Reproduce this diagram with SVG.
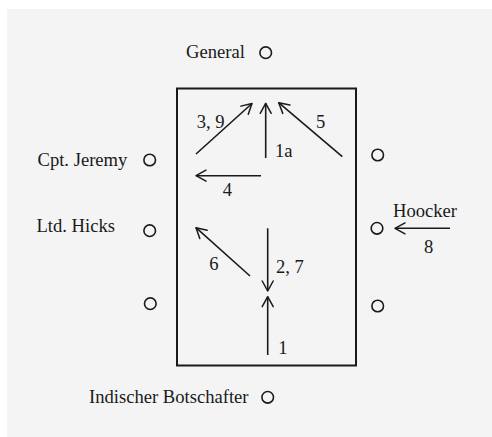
<svg xmlns="http://www.w3.org/2000/svg" width="492" height="437" viewBox="0 0 492 437">
  <defs>
    <marker id="head" viewBox="-12 -7 14 14" markerWidth="14" markerHeight="14" refX="0" refY="0" orient="auto" markerUnits="userSpaceOnUse">
      <path d="M-10,-5.5 L0,0 L-10,5.5" fill="none" stroke="#1a1a1a" stroke-width="1.5" stroke-linecap="round" stroke-linejoin="round"/>
    </marker>
    <style>
      text { font-family: "Liberation Serif", "Times New Roman", serif; font-size: 18.6px; fill: #1a1a1a; }
      .spot { fill: none; stroke: #1a1a1a; stroke-width: 1.6; }
      .move { stroke: #1a1a1a; stroke-width: 1.6; fill: none; marker-end: url(#head); }
    </style>
  </defs>

  <rect x="0" y="0" width="492" height="437" fill="#ffffff"/>
  <rect x="7" y="9" width="485" height="428" fill="#f4f4f4"/>

  <!-- room outline -->
  <rect id="room" x="177" y="88.5" width="179" height="277" fill="none" stroke="#1a1a1a" stroke-width="2"/>

  <!-- positions -->
  <g id="general">
    <text x="186" y="58">General</text>
    <circle class="spot" cx="265.7" cy="52.7" r="5.8"/>
  </g>
  <g id="jeremy">
    <text x="37.5" y="165.5">Cpt. Jeremy</text>
    <circle class="spot" cx="149.7" cy="160" r="5.8"/>
  </g>
  <g id="hicks">
    <text x="36.5" y="231.5">Ltd. Hicks</text>
    <circle class="spot" cx="149.7" cy="230.7" r="5.8"/>
  </g>
  <g id="left-empty">
    <circle class="spot" cx="150.3" cy="303.7" r="5.8"/>
  </g>
  <g id="right-upper">
    <circle class="spot" cx="377.7" cy="155" r="5.8"/>
  </g>
  <g id="hoocker">
    <text x="393" y="217.3">Hoocker</text>
    <circle class="spot" cx="377" cy="228.3" r="5.8"/>
  </g>
  <g id="right-lower">
    <circle class="spot" cx="377.7" cy="306" r="5.8"/>
  </g>
  <g id="botschafter">
    <text x="89" y="403.3">Indischer Botschafter</text>
    <circle class="spot" cx="267.7" cy="397.3" r="5.8"/>
  </g>

  <!-- movements -->
  <g id="connectors">
    <line class="move" x1="196" y1="154" x2="252" y2="103.5"/>
    <line class="move" x1="265.7" y1="158" x2="265.7" y2="103.3"/>
    <line class="move" x1="342.3" y1="156.7" x2="278.7" y2="102.7"/>
    <line class="move" x1="261" y1="175.7" x2="196" y2="175.7"/>
    <line class="move" x1="250" y1="276" x2="196" y2="227.7"/>
    <line class="move" x1="267.7" y1="228.3" x2="267.7" y2="291"/>
    <line class="move" x1="267.7" y1="355" x2="267.7" y2="296.7"/>
    <line class="move" x1="450" y1="228.3" x2="395" y2="228.3"/>
  </g>

  <g id="labels">
    <text x="196.7" y="128.3">3, 9</text>
    <text x="275" y="156.7">1a</text>
    <text x="316" y="127.7">5</text>
    <text x="222.7" y="196">4</text>
    <text x="209.3" y="270">6</text>
    <text x="276" y="273.3">2, 7</text>
    <text x="278.3" y="354">1</text>
    <text x="424" y="253.3">8</text>
  </g>
</svg>
